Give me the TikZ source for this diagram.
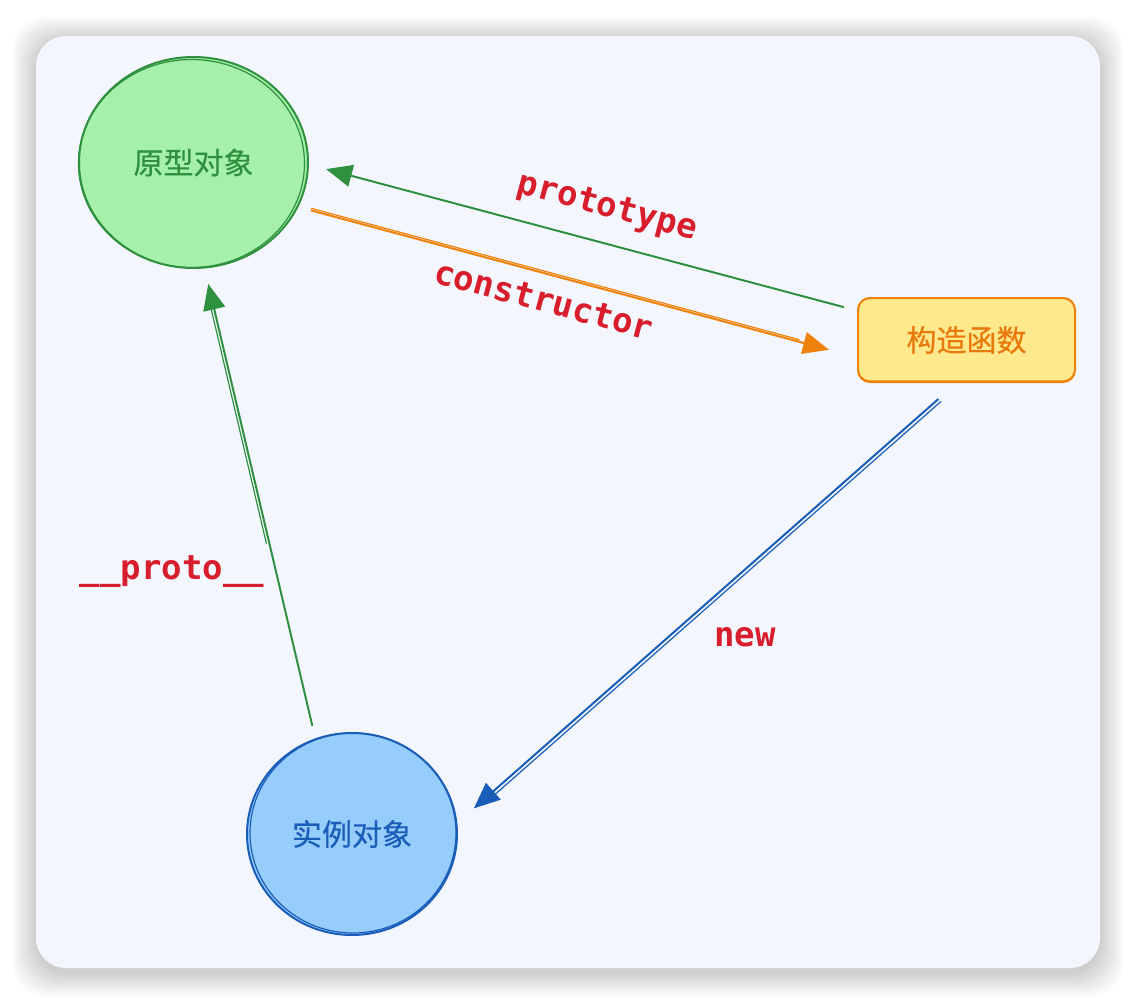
\documentclass[tikz,border=0pt]{standalone}
\usepackage{fontspec}
\usetikzlibrary{arrows.meta,shapes.geometric}
\newfontfamily\cjk[FakeBold=0.4]{Noto Sans CJK SC}
\newfontfamily\codefont{DejaVu Sans Mono}
\definecolor{bgpanel}{HTML}{F3F7FD}
\definecolor{gstroke}{HTML}{2F9140}
\definecolor{gfill}{HTML}{A5F1A9}
\definecolor{ostroke}{HTML}{EE820A}
\definecolor{otext}{HTML}{E8790C}
\definecolor{yfill}{HTML}{FFE98C}
\definecolor{bstroke}{HTML}{1A5DB8}
\definecolor{bfill}{HTML}{96CDFD}
\definecolor{lred}{HTML}{D81E2C}
\tikzset{
  circnode/.style={ellipse, line width=2pt, inner sep=0pt, font=\cjk\fontsize{30}{34}\selectfont},
  boxnode/.style={rectangle, rounded corners=12pt, line width=2pt, inner sep=0pt, font=\cjk\fontsize{30}{34}\selectfont},
  conn/.style={line width=2pt, -{Triangle[length=26pt,width=22pt]}},
  sketch/.style={line width=1.2pt},
  lab/.style={text=lred, inner sep=0pt, font=\codefont\bfseries\fontsize{34}{38}\selectfont}
}
\begin{document}
\begin{tikzpicture}[x=1pt,y=-1pt]
\useasboundingbox (0,0) rectangle (1136,1004);
\fill[white] (0,0) rectangle (1136,1004);
% shadow
\foreach \i in {1,...,24}{
  \fill[black, opacity=0.008, rounded corners=34pt] (36-\i,40-\i) rectangle (1100+\i,973+\i);
}
\fill[bgpanel, rounded corners=30pt] (36,36) rectangle (1100,968);

% nodes
\node[circnode, draw=gstroke, fill=gfill, text=gstroke, minimum width=229pt, minimum height=211pt] (proto) at (193.5,162.5) {原型对象};
\node[boxnode, draw=ostroke, fill=yfill, text=otext, minimum width=217pt, minimum height=84pt] (ctor) at (966.5,340) {构造函数};
\node[circnode, draw=bstroke, fill=bfill, text=bstroke, minimum width=210pt, minimum height=202pt] (inst) at (352,834) {实例对象};

% sketchy second strokes
\draw[sketch, gstroke] (proto.center) ++(-2,1) ellipse [x radius=113pt, y radius=104pt];
\draw[sketch, bstroke] (inst.center) ++(1,-1) ellipse [x radius=103pt, y radius=100pt];
\draw[sketch, ostroke, rounded corners=12pt] (ctor.south west) ++(1,-2) rectangle ([shift={(-1,1)}]ctor.north east);

% connectors
\draw[conn, gstroke, shorten <=13.5pt, shorten >=17.7pt] (ctor.165.3) -- (proto.-1.5);
\draw[conn, ostroke, shorten <=12.8pt, shorten >=29pt] (proto.-23) -- (ctor.-171.9);
\draw[sketch, ostroke, shorten <=12.8pt, shorten >=60pt, transform canvas={shift={(0.5pt,2pt)}}] (proto.-23) -- (ctor.-171.9);
\draw[conn, bstroke, shorten <=24.2pt, shorten >=22pt] (ctor.-103.9) -- (inst.6.3);
\draw[sketch, bstroke, shorten <=24pt, shorten >=45pt, transform canvas={shift={(2.6pt,-2.4pt)}}] (ctor.-103.9) -- (inst.6.3);
\draw[conn, gstroke, shorten <=12.8pt, shorten >=15.8pt] (inst.111.4) -- (proto.-84.6);
\draw[sketch, gstroke, shorten <=200pt, shorten >=40pt, transform canvas={shift={(-3pt,0pt)}}] (inst.111.4) -- (proto.-84.6);

% labels
\node[lab, rotate=-15] (lp) at (607,208) {prototype};
\node[lab, rotate=-15] (lc) at (544,300) {constructor};
\node[lab] (ln) at (745,637) {new};
\node[lab] (lpr) at (172,572) {\_\_proto\_\_};
\end{tikzpicture}
\end{document}
